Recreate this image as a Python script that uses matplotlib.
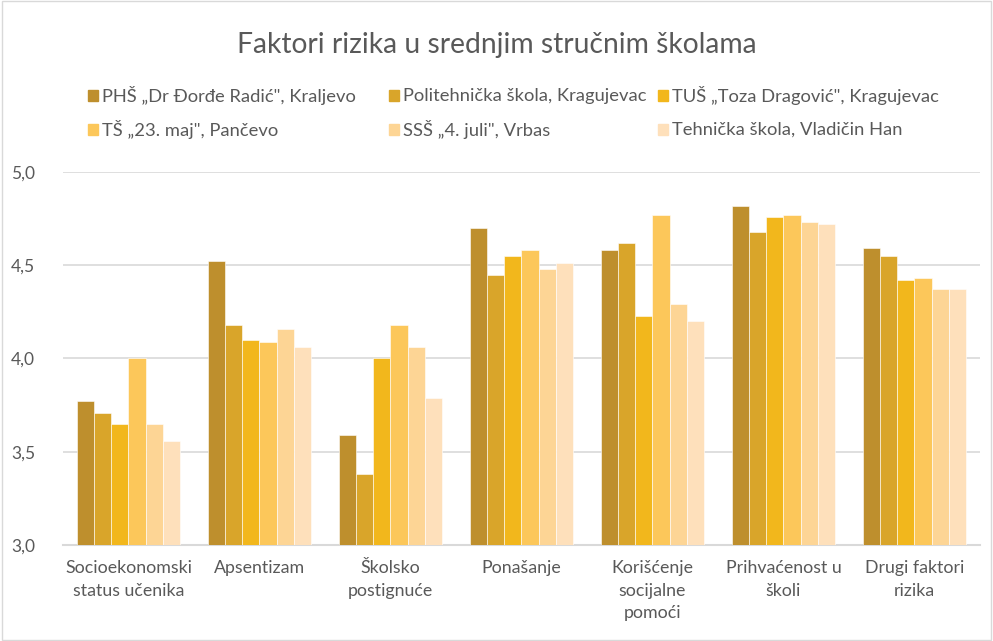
import numpy as np
import matplotlib.pyplot as plt
from matplotlib.patches import Rectangle

# Data
categories = ["Socioekonomski\nstatus učenika", "Apsentizam", "Školsko\npostignuće",
              "Ponašanje", "Korišćenje\nsocijalne\npomoći", "Prihvaćenost u\nškoli",
              "Drugi faktori\nrizika"]
schools = ["PHŠ „Dr Đorđe Radić\", Kraljevo", "Politehnička škola, Kragujevac",
           "TUŠ „Toza Dragović\", Kragujevac", "TŠ „23. maj\", Pančevo",
           "SSŠ „4. juli\", Vrbas", "Tehnička škola, Vladičin Han"]
phs_kraljevo = [3.77, 4.52, 3.59, 4.70, 4.58, 4.82, 4.59]
polit_kragujevac = [3.71, 4.18, 3.38, 4.45, 4.62, 4.68, 4.55]
tus_kragujevac = [3.65, 4.10, 4.00, 4.55, 4.23, 4.76, 4.42]
ts_pancevo = [4.00, 4.09, 4.18, 4.58, 4.77, 4.77, 4.43]
sss_vrbas = [3.65, 4.16, 4.06, 4.48, 4.29, 4.73, 4.37]
ts_vladicin = [3.56, 4.06, 3.79, 4.51, 4.20, 4.72, 4.37]
yticks = [3.0, 3.5, 4.0, 4.5, 5.0]

series = [phs_kraljevo, polit_kragujevac, tus_kragujevac, ts_pancevo, sss_vrbas, ts_vladicin]
colors = ["#BE8F2D", "#D9A52A", "#F2B71C", "#FCC75A", "#FDD595", "#FEE0BB"]
gray = "#595959"
font = "Lato"

fig = plt.figure(figsize=(9.93, 6.41), dpi=100)
ax = fig.add_axes([0.0634, 0.1498, 0.9235, 0.5819])

x = np.arange(len(categories))
w = 0.132
for i, (vals, col) in enumerate(zip(series, colors)):
    ax.bar(x + (i - 2.5) * w, np.array(vals) - 3.0, w, bottom=3.0,
           color=col, edgecolor="white", linewidth=0.4, zorder=3)

ax.set_xlim(-0.5, len(categories) - 0.5)
ax.set_ylim(3.0, 5.0)
ax.set_yticks(yticks)
ax.set_yticklabels([f"{v:.1f}".replace(".", ",") for v in yticks],
                   fontsize=12.5, color=gray, family=font)
ax.set_xticks(x)
ax.set_xticklabels(categories, fontsize=12.8, color=gray, family=font, linespacing=1.5)
ax.tick_params(length=0, pad=11)
ax.tick_params(axis="y", pad=20)
ax.grid(axis="y", color="#D9D9D9", linewidth=1.2, zorder=0)
for s in ["top", "right", "left"]:
    ax.spines[s].set_visible(False)
ax.spines["bottom"].set_color("#D9D9D9")
ax.spines["bottom"].set_linewidth(1.5)

fig.text(0.5, 0.93, "Faktori rizika u srednjim stručnim školama", ha="center",
         va="center", fontsize=20.3, color=gray, family=font)

# legend placed like Excel does it
leg_x = [88, 389, 658]
leg_y = [95, 129]
for i, (name, col) in enumerate(zip(schools, colors)):
    px = leg_x[i % 3] / 993
    py = 1 - leg_y[i // 3] / 641
    fig.patches.append(Rectangle((px, py - 0.009), 10 / 993, 11 / 641,
                                 transform=fig.transFigure, color=col))
    fig.text(px + 14 / 993, py - 0.001, name, va="center", ha="left",
             fontsize=13.2, color=gray, family=font)

fig.patches.append(Rectangle((0.002, 0.002), 0.996, 0.996, transform=fig.transFigure,
                             fill=False, edgecolor="#D9D9D9", linewidth=1))

fig.savefig("out.png", dpi=100)
